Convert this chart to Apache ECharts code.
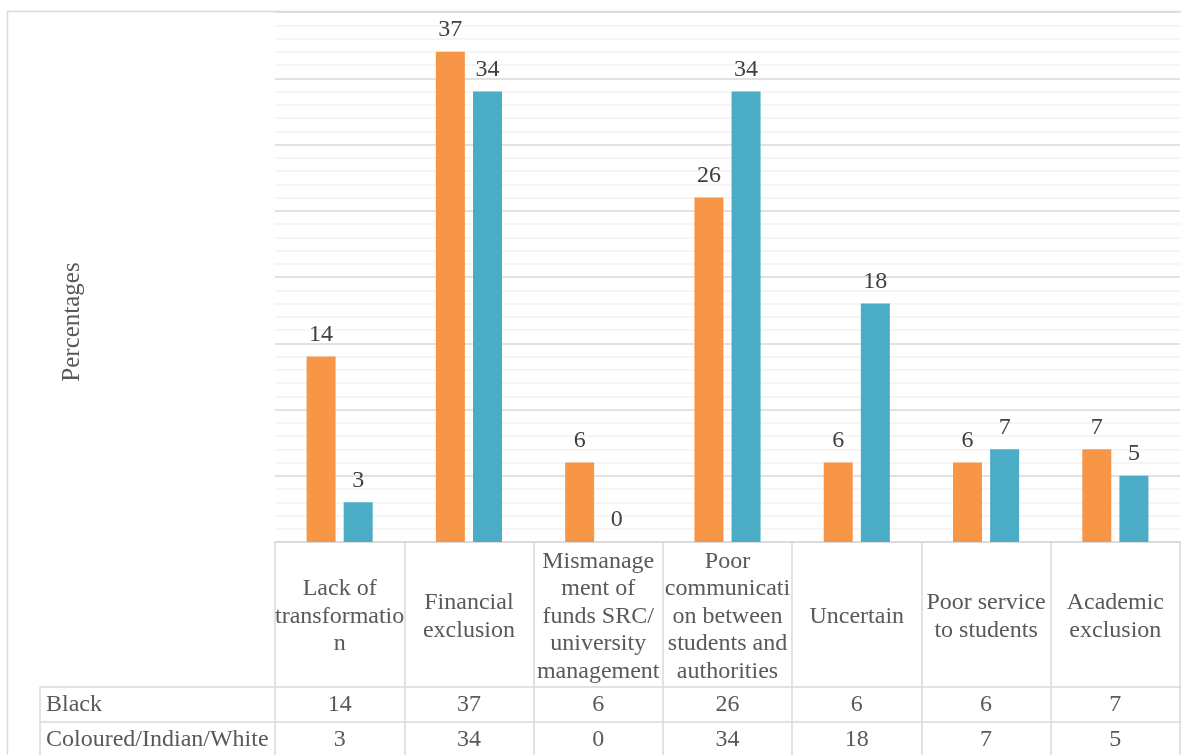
<!DOCTYPE html>
<html lang="en">
<head>
    <meta charset="UTF-8">
    <title>Percentages by reason</title>
    <style>
        html, body { margin: 0; padding: 0; background: #fff; }
        #chart { width: 1181px; height: 755px; }
    </style>
</head>
<body>
    <div id="chart"></div>
    <script src="https://cdn.jsdelivr.net/npm/echarts@6/dist/echarts.min.js"></script>
    <script>

        // data
        var categories = [
            'Lack of\ntransformatio\nn',
            'Financial\nexclusion',
            'Mismanage\nment of\nfunds SRC/\nuniversity\nmanagement',
            'Poor\ncommunicati\non between\nstudents and\nauthorities',
            'Uncertain',
            'Poor service\nto students',
            'Academic\nexclusion'
        ];
        var seriesNames = ['Black', 'Coloured/Indian/White'];
        var blackValues = [14, 37, 6, 26, 6, 6, 7];
        var otherValues = [3, 34, 0, 34, 18, 7, 5];

        // layout
        var font = "'Liberation Serif', 'Times New Roman', serif";
        var gridLeft = 275, gridTop = 12, tableTop = 542;
        var headerH = 145, rowH = 35;
        var rowLabelLeft = 40;
        var lineColor = '#d9d9d9';

        var chart = echarts.init(document.getElementById('chart'));

        function rowAxis(values, rowIndex) {
            return {
                type: 'category',
                gridIndex: 0,
                position: 'bottom',
                data: categories,
                axisLine: { show: false },
                axisTick: { show: false },
                splitLine: { show: false },
                axisLabel: {
                    interval: 0,
                    margin: headerH + rowH * rowIndex + rowH / 2,
                    verticalAlign: 'middle',
                    fontFamily: font,
                    fontSize: 24,
                    color: '#595959',
                    formatter: function (v, i) { return String(values[i]); }
                }
            };
        }

        function barSeries(name, values, color) {
            return {
                name: name,
                type: 'bar',
                data: values,
                barWidth: 29,
                barGap: '28%',
                itemStyle: { color: color },
                label: {
                    show: true,
                    position: 'top',
                    distance: 10,
                    fontFamily: font,
                    fontSize: 24,
                    lineHeight: 24,
                    color: '#404040'
                }
            };
        }

        var rowLines = [];
        for (var r = 0; r < seriesNames.length; r++) {
            var y = tableTop + headerH + rowH * r;
            rowLines.push({
                type: 'line',
                shape: { x1: rowLabelLeft, y1: y, x2: 1181, y2: y },
                style: { stroke: lineColor, lineWidth: 1.5 }
            });
            rowLines.push({
                type: 'text',
                style: {
                    text: seriesNames[r],
                    x: rowLabelLeft + 6,
                    y: y + rowH / 2,
                    verticalAlign: 'middle',
                    font: '24px ' + font,
                    fill: '#595959'
                }
            });
        }
        rowLines.push({
            type: 'line',
            shape: { x1: rowLabelLeft, y1: tableTop + headerH, x2: rowLabelLeft, y2: 770 },
            style: { stroke: lineColor, lineWidth: 1.5 }
        });

        var option = {
            animation: false,
            grid: { left: gridLeft, top: gridTop, right: 1, bottom: 755 - tableTop },
            xAxis: [
                {
                    type: 'category',
                    data: categories,
                    axisLine: { lineStyle: { color: lineColor, width: 1.5 } },
                    axisTick: {
                        show: true,
                        interval: 0,
                        length: 230,
                        lineStyle: { color: lineColor, width: 1.5 }
                    },
                    axisLabel: {
                        interval: 0,
                        margin: headerH / 2 + 2,
                        verticalAlign: 'middle',
                        align: 'center',
                        fontFamily: font,
                        fontSize: 24,
                        lineHeight: 27.5,
                        color: '#595959'
                    }
                },
                rowAxis(blackValues, 0),
                rowAxis(otherValues, 1)
            ],
            yAxis: {
                type: 'value',
                min: 0,
                max: 40,
                interval: 5,
                axisLabel: { show: false },
                axisLine: { show: false },
                axisTick: { show: false },
                splitLine: { lineStyle: { color: lineColor, width: 1.5 } },
                minorTick: { show: false, splitNumber: 5 },
                minorSplitLine: { show: true, lineStyle: { color: '#f2f2f2', width: 1.5 } }
            },
            graphic: [
                {
                    type: 'rect',
                    z: -1,
                    shape: { x: 7.5, y: 11.5, width: 1300, height: 900 },
                    style: { fill: 'none', stroke: lineColor, lineWidth: 1.5 }
                },
                {
                    type: 'text',
                    x: 72,
                    y: 322,
                    rotation: Math.PI / 2,
                    style: {
                        text: 'Percentages',
                        align: 'center',
                        verticalAlign: 'middle',
                        font: '25px ' + font,
                        fill: '#595959'
                    }
                }
            ].concat(rowLines),
            series: [
                barSeries(seriesNames[0], blackValues, '#f79646'),
                barSeries(seriesNames[1], otherValues, '#4bacc6')
            ]
        };

        chart.setOption(option);

    </script>
</body>
</html>
